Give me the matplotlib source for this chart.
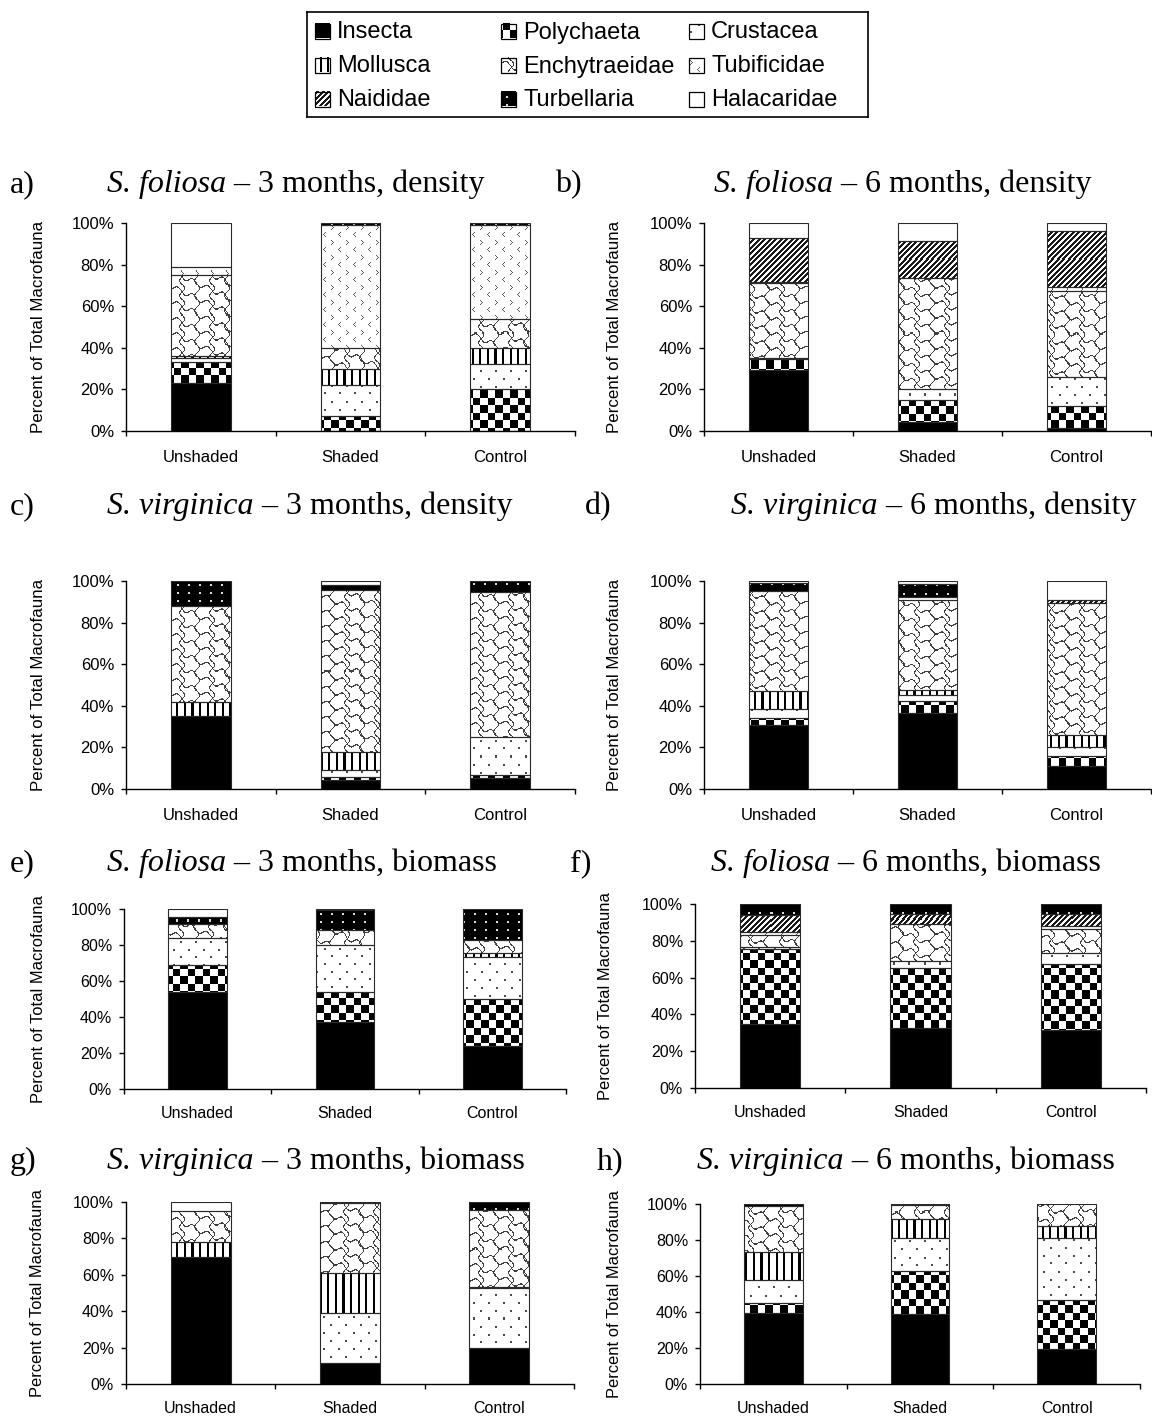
import numpy as np
import matplotlib
matplotlib.use("Agg")
import matplotlib.pyplot as plt
from matplotlib.patches import Rectangle

plt.rcParams['font.family'] = 'Liberation Sans'

# taxa in stacking order (bottom -> top)
taxa = ["Insecta", "Polychaeta", "Crustacea", "Mollusca", "Enchytraeidae",
        "Tubificidae", "Naididae", "Turbellaria", "Halacaridae"]
treatments = ["Unshaded", "Shaded", "Control"]
yticks = [0, 20, 40, 60, 80, 100]

# percent of total macrofauna, one row per taxon, columns = treatments
sf_3m_density = [
    [23, 0, 0], [10, 7, 20], [2, 15, 12], [1, 8, 8], [39, 10, 14],
    [4, 59, 45], [0, 0, 0], [0, 1, 1], [21, 0, 0]]
sf_6m_density = [
    [29.5, 4.5, 1.5], [5, 10.5, 10.5], [0.5, 5, 14], [0, 0, 0], [36, 53.5, 41.5],
    [0.5, 0, 1.5], [21.5, 18, 27], [0, 0, 0], [7, 8.5, 4]]
sv_3m_density = [
    [35, 4.5, 5.5], [0, 1.5, 1], [0, 3, 18.5], [7, 9, 0], [46, 77.5, 69.5],
    [0, 0, 0], [0, 0, 0], [12, 2.5, 5.5], [0, 2, 0]]
sv_6m_density = [
    [31, 36.5, 11], [3, 6, 5], [4.5, 2.5, 4], [8.5, 2.5, 6], [48, 43.5, 63.5],
    [0, 1.5, 0], [0, 0, 1.5], [4, 6, 0], [1, 1.5, 9]]
sf_3m_biomass = [
    [54, 37, 24], [15, 17, 26], [15, 26, 23.5], [0, 0, 2], [7.5, 8.5, 7.5],
    [0, 0, 0], [0, 0, 0], [4, 11, 17], [4.5, 0.5, 0]]
sf_6m_biomass = [
    [35, 32.5, 31.5], [40.5, 32.5, 36], [1, 4, 6], [0, 0, 0], [6.5, 20, 13],
    [2, 0, 1.5], [9, 5.5, 6.5], [6, 5.5, 5.5], [0, 0, 0]]
sv_3m_biomass = [
    [70, 11.5, 20], [0, 0, 0], [0, 27.5, 32.5], [8, 22, 1], [17, 38.5, 42],
    [0, 0, 0], [0, 0, 0], [0, 0.5, 4.5], [5, 0, 0]]
sv_6m_biomass = [
    [39.5, 39, 19.5], [5.5, 24, 27], [13, 18, 34.5], [15.5, 10.5, 7], [25.5, 8, 12],
    [0, 0, 0], [0, 0, 0], [1, 0.5, 0], [0, 0, 0]]

fill_kind = ["solid", "checker", "dots", "vlines", "wave",
             "chevron", "diag", "turb", "white"]

W, H = 1152, 1416
fig = plt.figure(figsize=(W / 100, H / 100), dpi=100)
renderer = fig.canvas.get_renderer()

# small bitmap for the chevron (Tubificidae) fill
chev = np.ones((15, 15))
for du, dv in [(0, 0), (1, 1), (2, 2), (1, 3), (0, 4),
               (9, 7), (8, 8), (7, 9), (8, 10), (9, 11)]:
    chev[dv, du] = 0.35


def texture(kind, x0, y0, w, h):
    X, Y = np.meshgrid(np.arange(w) + x0, np.arange(h) + y0)
    t = np.ones((h, w))
    if kind == "solid":
        t[:] = 0.0
    elif kind == "checker":
        t[((X // 7.5 + Y // 7.5) % 2) == 0] = 0.0
    elif kind == "dots":
        on = ((X % 15 < 2) & (Y % 15.4 < 2)) | \
             (((X + 7.5) % 15 < 2) & ((Y + 7.7) % 15.4 < 2))
        t[on] = 0.3
    elif kind == "vlines":
        t[(X % 7.6) < 2.2] = 0.0
    elif kind == "wave":
        f1 = (Y - 0.45 * X - 2.5 * np.sin(2 * np.pi * X / 15)) % 15
        f2 = (X - 2.5 * np.sin(2 * np.pi * Y / 15)) % 15
        t[(f1 < 1.4) | (f2 < 1.2)] = 0.25
    elif kind == "chevron":
        t = chev[Y % 15, X % 15]
    elif kind == "diag":
        t[((X + Y) % 5.5) < 2.6] = 0.1
    elif kind == "turb":
        t[:] = 0.0
        t[(X % 11 < 2) & (Y % 8 < 2)] = 0.85
    return t


def px_axes(x0, y0, x1, y1):
    return fig.add_axes([x0 / W, 1 - y1 / H, (x1 - x0) / W, (y1 - y0) / H])


def draw_panel(box, values, ylab_off, fs_tick, fs_lab, xpad):
    ax = px_axes(*box)
    ax.set_xlim(0, 3)
    ax.set_ylim(0, 100)
    ax.set_autoscale_on(False)
    xs = np.arange(3) + 0.5
    base = np.zeros(3)
    for k, row in enumerate(values):
        row = np.array(row, dtype=float)
        bars = ax.bar(xs, row, 0.4, bottom=base, facecolor="none",
                      edgecolor="#2a2a2a", linewidth=0.8, zorder=3)
        for j, rect in enumerate(bars):
            if row[j] <= 0:
                rect.set_visible(False)
                continue
            bb = rect.get_window_extent()
            w = max(int(round(bb.width)), 1)
            h = max(int(round(bb.height)), 1)
            tex = texture(fill_kind[k], int(bb.x0), int(H - bb.y1), w, h)
            ax.imshow(tex, cmap="gray", vmin=0, vmax=1, interpolation="nearest",
                      aspect="auto", zorder=2,
                      extent=(xs[j] - 0.2, xs[j] + 0.2, base[j], base[j] + row[j]))
        base = base + row
    ax.set_xlim(0, 3)
    ax.set_ylim(0, 100)
    for s in ["top", "right"]:
        ax.spines[s].set_visible(False)
    for s in ["left", "bottom"]:
        ax.spines[s].set_linewidth(1.0)
    ax.set_yticks(yticks)
    ax.set_yticklabels([f"{v}%" for v in yticks], fontsize=fs_tick)
    ax.tick_params(axis="y", direction="out", length=3.6, width=1, pad=5)
    ax.set_xticks([0, 1, 2, 3])
    ax.set_xticklabels([])
    ax.tick_params(axis="x", which="major", direction="out", length=3.6, width=1)
    ax.set_xticks(xs, minor=True)
    ax.set_xticklabels(treatments, minor=True, fontsize=fs_tick)
    ax.tick_params(axis="x", which="minor", length=0, pad=xpad)
    ax.set_ylabel("Percent of Total Macrofauna", fontsize=fs_lab)
    ax.yaxis.set_label_coords(ylab_off / (box[2] - box[0]), 0.5)
    return ax


panels = [
    ("a)", "S. foliosa", "3 months, density", sf_3m_density,
     (126, 223, 575, 431), 10, 107, 181, -80),
    ("b)", "S. foliosa", "6 months, density", sf_6m_density,
     (704, 223, 1151, 431), 555, 714, 181, -82),
    ("c)", "S. virginica", "3 months, density", sv_3m_density,
     (126, 581, 575, 789), 10, 107, 503, -80),
    ("d)", "S. virginica", "6 months, density", sv_6m_density,
     (704, 581, 1151, 789), 585, 731, 503, -82),
    ("e)", "S. foliosa", "3 months, biomass", sf_3m_biomass,
     (124, 909, 566, 1089), 10, 107, 860, -78),
    ("f)", "S. foliosa", "6 months, biomass", sf_6m_biomass,
     (695, 904, 1146, 1088), 570, 711, 860, -82),
    ("g)", "S. virginica", "3 months, biomass", sv_3m_biomass,
     (126, 1202, 574, 1384), 10, 107, 1158, -81),
    ("h)", "S. virginica", "6 months, biomass", sv_6m_biomass,
     (700, 1204, 1140, 1384), 597, 697, 1158, -78),
]

for i, (letter, sp, rest, vals, box, lx, tx, ty, yoff) in enumerate(panels):
    top_row = i < 4
    draw_panel(box, vals, yoff,
               12 if top_row else 11.5,
               12.2 if top_row else 11.9,
               14 if top_row else 12.5)
    fig.text(lx / W, 1 - ty / H, letter, fontsize=23, family="Liberation Serif",
             ha="left", va="center_baseline")
    t1 = fig.text(tx / W, 1 - ty / H, sp, fontsize=23, family="Liberation Serif",
                  style="italic", ha="left", va="center_baseline")
    x_end = t1.get_window_extent(renderer).x1
    fig.text(x_end / W, 1 - ty / H, " \u2013 " + rest, fontsize=23,
             family="Liberation Serif", ha="left", va="center_baseline")

# legend box drawn in figure-pixel coordinates
lax = px_axes(307, 12, 868, 117)
lax.set_xlim(307, 868)
lax.set_ylim(117, 12)
lax.set_autoscale_on(False)
lax.set_xticks([])
lax.set_yticks([])
for s in lax.spines.values():
    s.set_linewidth(1.2)
col_x = [315, 501, 689]
row_y = [31, 65, 99]
for k, name in enumerate(taxa):
    r, c = divmod(k, 3)
    sx, sy = col_x[c], row_y[r] - 7.5
    tex = texture(fill_kind[k], sx, int(sy), 15, 15)
    lax.imshow(tex, cmap="gray", vmin=0, vmax=1, interpolation="nearest",
               aspect="auto", extent=(sx, sx + 15, sy + 15, sy), zorder=2)
    lax.add_patch(Rectangle((sx, sy), 15, 15, facecolor="none",
                            edgecolor="black", linewidth=0.9, zorder=3))
    lax.text(sx + 22, row_y[r] + 1.5, name, fontsize=17, ha="left", va="center")
lax.set_xlim(307, 868)
lax.set_ylim(117, 12)

fig.savefig("out.png", dpi=100)
